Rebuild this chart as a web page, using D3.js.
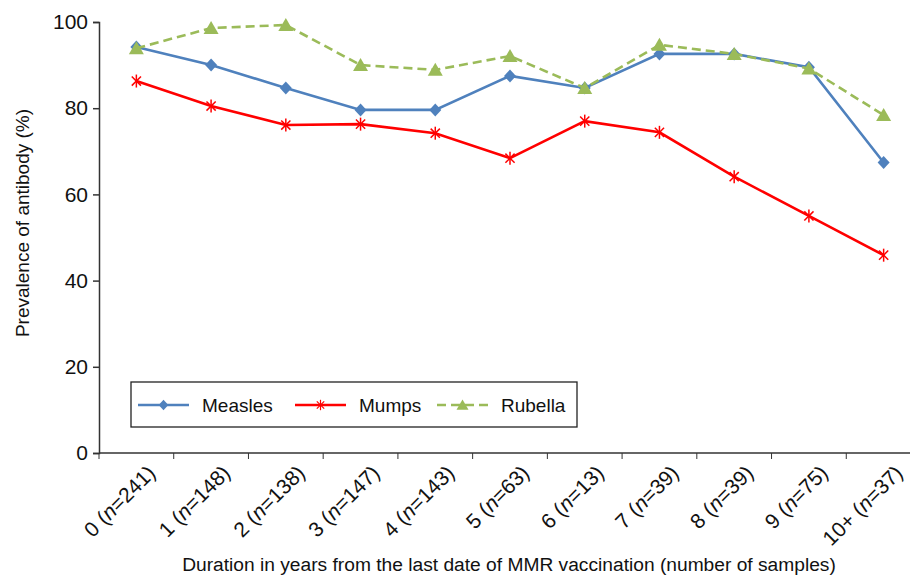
<!DOCTYPE html>
<html>
<head>
<meta charset="utf-8">
<script src="https://cdn.jsdelivr.net/npm/d3@7"></script>
<style>
  body { margin: 0; background: #fff; }
  svg { display: block; font-family: "Liberation Sans", Arial, sans-serif; }
</style>
</head>
<body>
<svg id="chart" width="910" height="577"></svg>
<script>
// categories: years since last MMR dose, with sample counts
const years = ["0", "1", "2", "3", "4", "5", "6", "7", "8", "9", "10+"];
const samples = [241, 148, 138, 147, 143, 63, 13, 39, 39, 75, 37];

// prevalence of antibody (%)
const measles = [94.2, 90.0, 84.7, 79.6, 79.6, 87.5, 84.7, 92.6, 92.6, 89.5, 67.4];
const mumps   = [86.3, 80.5, 76.1, 76.3, 74.2, 68.4, 77.0, 74.4, 64.1, 55.0, 45.9];
const rubella = [93.9, 98.6, 99.3, 90.0, 88.9, 92.1, 84.7, 94.7, 92.6, 89.2, 78.4];

const yTicks = [0, 20, 40, 60, 80, 100];

const series = [
  {name: "Measles", values: measles, color: "#4f81bd", dash: null, marker: "diamond"},
  {name: "Mumps",   values: mumps,   color: "#ff0000", dash: null, marker: "star"},
  {name: "Rubella", values: rubella, color: "#9bbb59", dash: "9,5", marker: "triangle"}
];

const svg = d3.select("#chart");

const x = d3.scaleBand().domain(years).range([99, 921]);
const y = d3.scaleLinear().domain([0, 100]).range([453, 22]);

//axes
const yAxis = svg.append("g")
  .attr("transform", "translate(99,0)")
  .call(d3.axisLeft(y).tickValues(yTicks).tickSize(6).tickPadding(5));
yAxis.selectAll("text").attr("font-size", 21).attr("fill", "#111").attr("font-family", "Liberation Sans, Arial, sans-serif");

const xAxis = svg.append("g")
  .attr("transform", "translate(0,453)")
  .call(d3.axisBottom(x).tickSize(0).tickFormat(""));
xAxis.select(".domain").attr("d", "M99,0H921");

// band boundary ticks like the spreadsheet chart
xAxis.selectAll(".bound")
  .data(years)
  .enter().append("line")
  .attr("x1", d => x(d)).attr("x2", d => x(d))
  .attr("y1", 0).attr("y2", 6)
  .attr("stroke", "#333");

[yAxis, xAxis].forEach(g => {
  g.selectAll(".domain, .tick line").attr("stroke", "#333").attr("stroke-width", 1.5);
});

//rotated category labels with an italic n
const lab = svg.append("g").selectAll("text")
  .data(years)
  .enter().append("text")
  .attr("transform", d => "translate(" + (x(d) + x.bandwidth() / 2 + 10) + ",464) rotate(-45)")
  .attr("text-anchor", "end")
  .attr("dy", "0.7em")
  .attr("font-size", 21)
  .attr("fill", "#111");
lab.append("tspan").text((d, i) => d + " (");
lab.append("tspan").attr("font-style", "italic").text("n");
lab.append("tspan").text((d, i) => "=" + samples[i] + ")");

//axis titles
svg.append("text")
  .attr("x", 509).attr("y", 571)
  .attr("text-anchor", "middle")
  .attr("font-size", 19.2)
  .attr("fill", "#111")
  .text("Duration in years from the last date of MMR vaccination (number of samples)");

svg.append("text")
  .attr("transform", "translate(29,223) rotate(-90)")
  .attr("text-anchor", "middle")
  .attr("font-size", 19)
  .attr("fill", "#111")
  .text("Prevalence of antibody (%)");

//marker drawing
function draw_marker(g, type, color) {
  if (type === "diamond") {
    g.append("path").attr("d", "M0,-6.5L6,0L0,6.5L-6,0Z").attr("fill", color);
  } else if (type === "triangle") {
    g.append("path").attr("d", "M0,-7L7.5,6L-7.5,6Z").attr("fill", color);
  } else if (type === "star") {
    const r = 6.5, q = 4.6;
    [[0, -r, 0, r], [-q, -q, q, q], [-q, q, q, -q]].forEach(s => {
      g.append("line").attr("x1", s[0]).attr("y1", s[1]).attr("x2", s[2]).attr("y2", s[3])
        .attr("stroke", color).attr("stroke-width", 1.5);
    });
  }
}

const line = d3.line()
  .x((d, i) => x(years[i]) + x.bandwidth() / 2)
  .y(d => y(d));

series.forEach(s => {
  svg.append("path")
    .datum(s.values)
    .attr("d", line)
    .attr("fill", "none")
    .attr("stroke", s.color)
    .attr("stroke-width", 2.6)
    .attr("stroke-dasharray", s.dash);
  s.values.forEach((v, i) => {
    const g = svg.append("g")
      .attr("transform", "translate(" + (x(years[i]) + x.bandwidth() / 2) + "," + y(v) + ")");
    draw_marker(g, s.marker, s.color);
  });
});

//legend
const legend = svg.append("g");
legend.append("rect")
  .attr("x", 131).attr("y", 382).attr("width", 446).attr("height", 45)
  .attr("fill", "#fff").attr("stroke", "#222").attr("stroke-width", 1.3);

const legendX = [138, 295, 437];
series.forEach((s, i) => {
  const lg = legend.append("g").attr("transform", "translate(" + legendX[i] + ",405)");
  lg.append("line").attr("x1", 0).attr("x2", 51).attr("y1", 0).attr("y2", 0)
    .attr("stroke", s.color).attr("stroke-width", 2.6).attr("stroke-dasharray", s.dash);
  const m = lg.append("g").attr("transform", "translate(25.5,0) scale(0.8)");
  draw_marker(m, s.marker, s.color);
  lg.append("text").attr("x", 64).attr("y", 0).attr("dy", "0.35em")
    .attr("font-size", 19).attr("fill", "#111").text(s.name);
});
</script>
</body>
</html>
